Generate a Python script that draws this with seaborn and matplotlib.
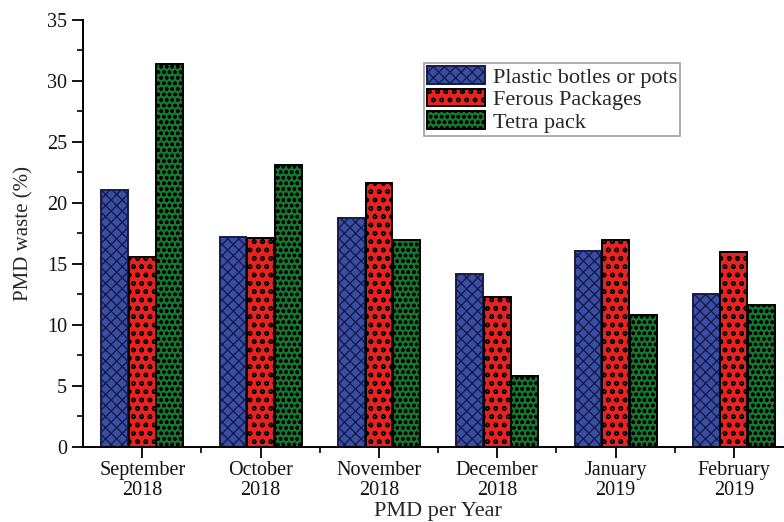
import matplotlib
matplotlib.use("Agg")
import matplotlib.pyplot as plt
from matplotlib.ticker import MultipleLocator, FixedLocator
import seaborn as sns
import pandas as pd

# Monthly composition of PMD waste (%)
months = ["September\n2018", "October\n2018", "November\n2018",
          "December\n2018", "January\n2019", "February\n2019"]
series = ["Plastic botles or pots", "Ferous Packages", "Tetra pack"]
plastic = [21.1, 17.2, 18.8, 14.2, 16.1, 12.5]
ferous = [15.6, 17.1, 21.6, 12.3, 17.0, 16.0]
tetra = [31.4, 23.1, 17.0, 5.8, 10.8, 11.6]

df = pd.DataFrame({
    "month": months * 3,
    "type": [series[0]] * 6 + [series[1]] * 6 + [series[2]] * 6,
    "value": plastic + ferous + tetra,
})

sns.set_theme(style="ticks")
plt.rcParams["font.family"] = ["Liberation Serif", "DejaVu Serif"]
plt.rcParams["hatch.linewidth"] = 1.0

fills = ["#3b4ea6", "#e8231f", "#127a2c"]
edges = ["#161c48", "black", "black"]
hatches = ["xxx", "oo", "ooo"]

fig = plt.figure(figsize=(7.84, 5.22), dpi=100)
ax = fig.add_axes([0.106, 0.1437, 0.9055, 0.818])

sns.barplot(data=df, x="month", y="value", hue="type", order=months,
            hue_order=series, palette=fills, width=0.7, gap=0.03,
            linewidth=1.4, legend=False, ax=ax)

for cont, fc, ec, h in zip(ax.containers, fills, edges, hatches):
    for bar in cont:
        bar.set_facecolor(fc)
        bar.set_edgecolor(ec)
        bar.set_hatch(h)
        bar.set_linewidth(1.4)

ax.set_xlim(-0.5, 5.5)
ax.set_ylim(0, 35)
ax.yaxis.set_major_locator(MultipleLocator(5))
ax.yaxis.set_minor_locator(MultipleLocator(2.5))
ax.xaxis.set_minor_locator(FixedLocator([0.5, 1.5, 2.5, 3.5, 4.5]))

sns.despine(ax=ax, top=True, right=True)
for side in ("left", "bottom"):
    ax.spines[side].set_linewidth(1.4)
    ax.spines[side].set_color("black")

ax.tick_params(axis="both", which="major", direction="out", length=8,
               width=1.3, color="black", labelsize=14.5, labelcolor="#111111")
ax.tick_params(axis="both", which="minor", direction="out", length=4.5,
               width=1.2, color="black")
ax.tick_params(axis="x", which="major", pad=2)
for lbl in ax.get_xticklabels():
    lbl.set_linespacing(1.05)

ax.set_xlabel("PMD per Year", fontsize=16, labelpad=2)
ax.set_ylabel("PMD waste (%)", fontsize=15, labelpad=10)

leg = ax.legend(ax.containers, series, loc="upper left",
                bbox_to_anchor=(0.480, 0.900), fontsize=16, frameon=True,
                fancybox=False, handlelength=2.6, handleheight=0.85,
                labelspacing=0.05, borderpad=0.15, handletextpad=0.35,
                borderaxespad=0.0)
leg.get_frame().set_edgecolor("#888888")
leg.get_frame().set_linewidth(1.2)

fig.savefig("out.png", dpi=100)
